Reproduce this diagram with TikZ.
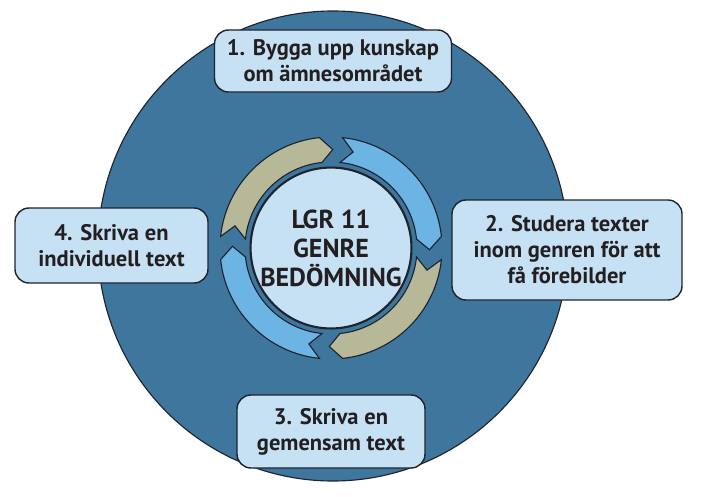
\documentclass[tikz,border=0pt]{standalone}
\usepackage{fontspec}
\setmainfont{PT Sans}
\usepackage{tikz}
\definecolor{discblue}{RGB}{62,118,158}
\definecolor{outline}{RGB}{30,35,45}
\definecolor{boxblue}{RGB}{198,224,244}
\definecolor{arrowblue}{RGB}{108,180,228}
\definecolor{arrowtan}{RGB}{183,184,152}
\definecolor{textdark}{RGB}{35,31,32}
\tikzset{
	stagebox/.style={draw=outline, line width=1pt, fill=boxblue, rounded corners=0.35cm,
		align=center, text=textdark, font=\fontsize{16}{18.5}\selectfont\bfseries, inner sep=0pt},
}
\newcommand{\cyclearrow}[3] % fill colour, tail angle, head angle (clockwise)
{
	% band from r = 2.15 to r = 2.775, notch at the tail, point at the head
	\filldraw[fill=#1, draw=outline, line width=0.8pt] (#2:2.775) arc (#2:#3:2.775)
		-- (#3-7:2.4625) -- (#3:2.15) arc (#3:#2:2.15) -- (#2-7:2.4625) -- cycle;
}

\begin{document}
\begin{tikzpicture}
	% picture: 702 x 496 px, 1 px = 0.025 cm
	\useasboundingbox (0, 0) rectangle (17.55, 12.4);
	% big disc
	\filldraw[fill=discblue, draw=outline, line width=0.8pt] (8.325, 6.25) circle (5.875);
	
	% ring of arrows
	\begin{scope}[shift={(8.275, 6.2)}]
		\cyclearrow{arrowtan}{174}{96};
		\cyclearrow{arrowblue}{84}{6};
		\cyclearrow{arrowtan}{-6}{-84};
		\cyclearrow{arrowblue}{-96}{-174};
		% centre
		\node[circle, draw=outline, line width=1.5pt, fill=boxblue, minimum size=3.9cm, inner sep=0pt,
			align=center, text=textdark, font=\fontsize{18.5}{20.6}\selectfont\bfseries] (centre) at (0, 0)
			{LGR 11\\GENRE\\BEDÖMNING};
	\end{scope}
	
	% the four stages
	\node[stagebox, minimum width=5.925cm, minimum height=1.55cm] (stage1) at (8.325, 10.875)
		{1. Bygga upp kunskap\\om ämnesområdet};
	\node[stagebox, minimum width=5.75cm, minimum height=2.5cm] (stage2) at (14.175, 6.15)
		{2. Studera texter\\inom genren för att\\få förebilder};
	\node[stagebox, minimum width=4.7cm, minimum height=1.825cm] (stage3) at (8.275, 1.6125)
		{3. Skriva en\\gemensam text};
	\node[stagebox, minimum width=4.825cm, minimum height=1.875cm] (stage4) at (2.7875, 6.2625)
		{4. Skriva en\\individuell text};
\end{tikzpicture}
\end{document}
